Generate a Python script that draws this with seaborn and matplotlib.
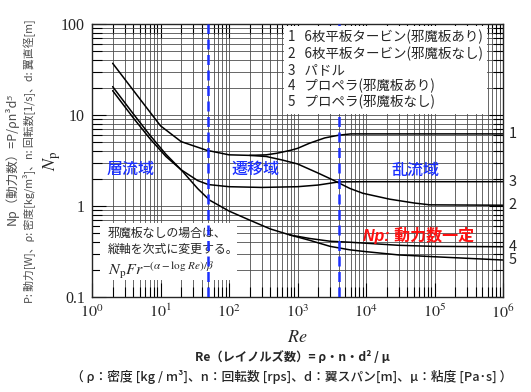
import numpy as np
import matplotlib
matplotlib.use("Agg")
from matplotlib import pyplot as plt
from matplotlib.patches import Rectangle
from matplotlib.ticker import LogLocator, FixedLocator, FixedFormatter
import seaborn as sns

# 読み取ったデータ (Re, Np)
re_turbine = [2, 5, 10, 20, 47, 100, 200, 350, 500, 800, 1000, 1500, 2500, 4000, 6000, 10000, 1e6]
np_turbine_baffle = [37, 15, 7.6, 5.1, 4.1, 3.65, 3.6, 3.65, 3.8, 4.1, 4.3, 4.9, 5.6, 6.0, 6.2, 6.2, 6.2]

re_turbine_nb = [200, 350, 600, 1000, 2000, 3300, 5800, 9000, 22000, 50000, 85000, 1e6]
np_turbine_nb = [3.6, 3.5, 3.2, 2.9, 2.3, 1.93, 1.56, 1.38, 1.19, 1.08, 1.03, 1.02]

re_paddle = [2, 4, 7, 12, 20, 35, 50, 100, 300, 1000, 2000, 4000, 10000, 1e6]
np_paddle = [18.5, 9.3, 5.5, 3.5, 2.5, 1.9, 1.72, 1.63, 1.6, 1.63, 1.7, 1.84, 1.85, 1.85]

re_prop = [2, 4, 7, 12, 20, 35, 52, 100, 200, 400, 780]
np_prop = [20.5, 10.3, 6.0, 3.7, 2.5, 1.55, 1.16, 0.88, 0.70, 0.56, 0.48]

re_prop_baffle = [780, 1500, 3000, 5800, 10000, 30000, 1e5, 1e6]
np_prop_baffle = [0.48, 0.44, 0.41, 0.40, 0.39, 0.37, 0.36, 0.357]

re_prop_nb = [780, 1500, 3000, 5800, 10000, 30000, 1e5, 1e6]
np_prop_nb = [0.48, 0.42, 0.36, 0.33, 0.315, 0.29, 0.277, 0.255]

legend_lines = [
    "1   6枚平板タービン(邪魔板あり)",
    "2   6枚平板タービン(邪魔板なし)",
    "3   パドル",
    "4   プロペラ(邪魔板あり)",
    "5   プロペラ(邪魔板なし)",
]
end_labels = ["1", "3", "2", "4", "5"]
end_values = [6.2, 1.85, 1.02, 0.357, 0.255]
boundaries = [50, 4000]

sns.set_style("ticks")
plt.rcParams["font.family"] = ["Noto Sans CJK JP", "DejaVu Sans"]
plt.rcParams["mathtext.fontset"] = "stix"
jp = ["Noto Sans CJK JP", "DejaVu Sans"]
serif = ["Liberation Serif", "DejaVu Serif"]

fig = plt.figure(figsize=(5.31, 3.92), dpi=100)
ax = fig.add_axes([0.1733, 0.2423, 0.7740, 0.6965])

for xs, ys in [(re_turbine, np_turbine_baffle), (re_turbine_nb, np_turbine_nb),
               (re_paddle, np_paddle), (re_prop, np_prop),
               (re_prop_baffle, np_prop_baffle), (re_prop_nb, np_prop_nb)]:
    sns.lineplot(x=xs, y=ys, ax=ax, color="black", lw=1.1, zorder=2)

ax.set_xscale("log")
ax.set_yscale("log")
ax.set_xlim(1, 1e6)
ax.set_ylim(0.1, 100)

ax.xaxis.set_major_locator(FixedLocator([10.0 ** k for k in range(7)]))
ax.xaxis.set_major_formatter(FixedFormatter([rf"$10^{{{k}}}$" for k in range(7)]))
ax.yaxis.set_major_locator(FixedLocator([0.1, 1, 10, 100]))
ax.yaxis.set_major_formatter(FixedFormatter(["0.1", "1", "10", "100"]))
ax.xaxis.set_minor_locator(LogLocator(base=10, subs=np.arange(2, 10), numticks=20))
ax.yaxis.set_minor_locator(LogLocator(base=10, subs=np.arange(2, 10), numticks=20))
ax.tick_params(which="both", direction="in", top=True, right=True, width=0.8, color="black")
ax.tick_params(which="major", length=10, labelsize=11.5, pad=5)
ax.tick_params(which="minor", length=7)
for lab in ax.get_xticklabels() + ax.get_yticklabels():
    lab.set_family(serif)
ax.grid(which="both", color="0.3", lw=0.6)
for s in ax.spines.values():
    s.set_linewidth(1.0)

blue = "#1a2fff"
for b in boundaries:
    ax.axvline(b, color=blue, lw=1.8, ls=(0, (4, 2.2)), zorder=5)

ax.set_xlabel("$Re$", fontsize=13)
ax.xaxis.set_label_coords(0.5, -0.115)
ax.set_ylabel(r"$N_{\rm p}$", fontsize=13)
ax.yaxis.set_label_coords(-0.07, 0.5)

# 凡例ボックス (破線より上に描く)
ax.text(0.477, 0.978, "\n".join(legend_lines), transform=ax.transAxes, ha="left", va="top",
        fontsize=9.7, family=jp, linespacing=1.16, zorder=6,
        bbox=dict(fc="white", ec="none", pad=3))

# 右端の番号
for lab, v in zip(end_labels, end_values):
    ax.annotate(lab, xy=(1e6, v), xytext=(4, 0), textcoords="offset points",
                ha="left", va="center", fontsize=10.5, annotation_clip=False)

# 領域ラベル
ax.text(3.6, 2.5, "層流域", color=blue, fontsize=11.5, ha="center", va="center", family=jp,
        fontweight="medium")
ax.text(240, 2.5, "遷移域", color=blue, fontsize=11.5, ha="center", va="center", family=jp,
        fontweight="medium")
ax.text(52000, 2.48, "乱流域", color=blue, fontsize=11.5, ha="center", va="center", family=jp,
        fontweight="medium")
ax.text(9000, 0.475, "Np: 動力数一定", color="#ff1010", fontsize=11.5, ha="left", va="center",
        family=["Liberation Sans", "Noto Sans CJK JP"], fontweight="bold", style="italic")

# 注記ボックス
ax.add_patch(Rectangle((0.0195, 0.062), 0.333, 0.209, transform=ax.transAxes,
                       fc="white", ec="none", zorder=2.5))
ax.text(1.71, 0.41, "邪魔板なしの場合は、\n縦軸を次式に変更する。", fontsize=8.6, family=jp,
        ha="left", va="center", linespacing=1.35, zorder=3)
ax.text(1.71, 0.198, r"$N_{\rm p}Fr^{-(\alpha-\log\,Re)/\beta}$", fontsize=11.5, ha="left",
        va="center", zorder=3)

# 縦軸の説明
fig.text(0.022, 0.595, "Np（動力数）=P/ρn³d⁵", rotation=90, ha="center", va="center",
         fontsize=9.0, color="0.3", family=jp, style="italic")
fig.text(0.053, 0.59, "P: 動力[W]、ρ: 密度[kg/m³]、n: 回転数[1/s]、d: 翼直径[m]", rotation=90,
         ha="center", va="center", fontsize=7.8, color="0.3", family=jp)

# 下部の説明
fig.text(0.55, 0.089, "Re（レイノルズ数）= ρ・n・d² / μ", ha="center", va="center",
         fontsize=8.8, family=jp, fontweight="bold", style="italic")
fig.text(0.55, 0.038, "（ ρ：密度 [kg / m³]、n：回転数 [rps]、d：翼スパン[m]、μ：粘度 [Pa･s] ）",
         ha="center", va="center", fontsize=9.2, family=jp, fontweight="medium")

fig.savefig("out.png", dpi=100)
